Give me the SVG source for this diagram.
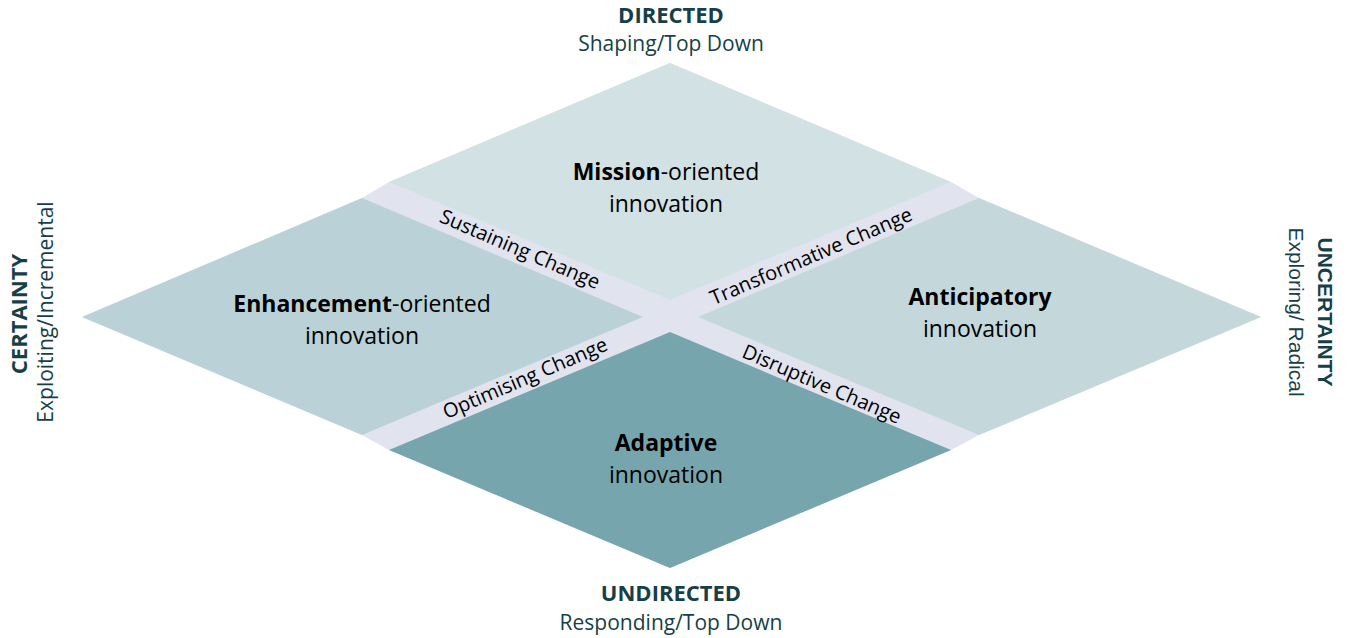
<svg xmlns="http://www.w3.org/2000/svg" width="1349" height="638" viewBox="0 0 1349 638">
<style>
.q{font-family:"Open Sans","Noto Sans",sans-serif;font-size:23px;fill:#000;text-anchor:middle}
.b{font-weight:bold}
.band{font-family:"Open Sans","Noto Sans",sans-serif;font-size:20px;fill:#000;text-anchor:middle}
.ax{font-family:"Open Sans","Noto Sans",sans-serif;fill:#173f47;text-anchor:middle}
.axa{font-family:"Liberation Sans",Arial,sans-serif;fill:#173f47;text-anchor:middle}
</style>
<rect width="1349" height="638" fill="#fff"/>
<g id="band">
<polygon points="670,63 951,182 979,198 1261,317 979,435 951,450 670,568 389,450 362,435 82,317 362,198 389,182" fill="#e1e4ef"/>
</g>
<g id="mission">
<polygon points="670,63 951,182 670,300 389,182" fill="#d2e1e4"/>
<text class="q" x="666" y="180"><tspan class="b">Mission</tspan>-oriented</text>
<text class="q" x="666" y="212">innovation</text>
</g>
<g id="enhancement">
<polygon points="362,198 643,317 362,435 82,317" fill="#bad2d7"/>
<text class="q" x="362" y="312"><tspan class="b">Enhancement</tspan>-oriented</text>
<text class="q" x="362" y="344">innovation</text>
</g>
<g id="anticipatory">
<polygon points="979,198 1261,317 979,435 698,317" fill="#c4d8dc"/>
<text class="q b" x="980" y="305">Anticipatory</text>
<text class="q" x="980" y="337">innovation</text>
</g>
<g id="adaptive">
<polygon points="670,332 951,450 670,568 389,450" fill="#77a5ae"/>
<text class="q b" x="666" y="451">Adaptive</text>
<text class="q" x="666" y="483">innovation</text>
</g>
<g id="connectors">
<text class="band" transform="translate(520,249) rotate(23.2)" dy="0.35em">Sustaining Change</text>
<text class="band" transform="translate(811,256) rotate(-23.2)" dy="0.35em">Transformative Change</text>
<text class="band" transform="translate(525,378) rotate(-23.2)" dy="0.35em">Optimising Change</text>
<text class="band" transform="translate(822,384) rotate(23.2)" dy="0.35em">Disruptive Change</text>
</g>
<g id="axis-top">
<text class="ax b" x="671" y="23" font-size="22">DIRECTED</text>
<text class="ax" x="671" y="51" font-size="21">Shaping/Top Down</text>
</g>
<g id="axis-bottom">
<text class="ax b" x="671" y="601" font-size="22">UNDIRECTED</text>
<text class="ax" x="671" y="630" font-size="21">Responding/Top Down</text>
</g>
<g id="axis-left">
<text class="ax b" transform="translate(27,314) rotate(-90)" font-size="22">CERTAINTY</text>
<text class="ax" transform="translate(53,312) rotate(-90)" font-size="21">Exploiting/Incremental</text>
</g>
<g id="axis-right">
<text class="axa b" transform="translate(1318,312) rotate(90)" font-size="21">UNCERTAINTY</text>
<text class="axa" transform="translate(1289,312) rotate(90)" font-size="21">Exploring/ Radical</text>
</g>
</svg>
